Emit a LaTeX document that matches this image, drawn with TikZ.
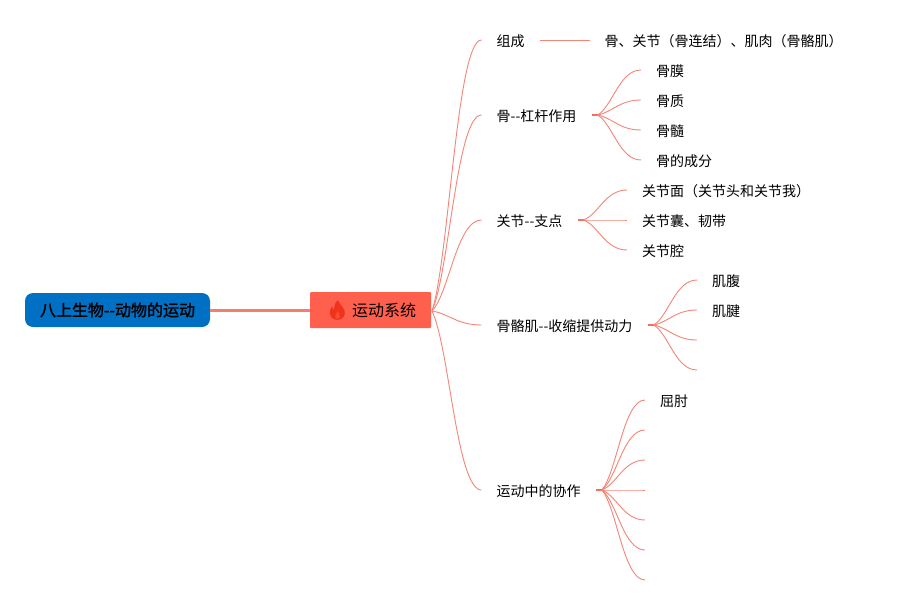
\documentclass[tikz,border=0pt]{standalone}
\usepackage{fontspec}
\setmainfont{Noto Sans CJK SC}
\newfontfamily\rootfont[FakeBold=1.5]{Noto Sans CJK SC}
\usetikzlibrary{calc}
\definecolor{rootblue}{HTML}{0070C4}
\definecolor{sysred}{HTML}{FF5F4D}
\definecolor{linered}{HTML}{F3705F}
\definecolor{flame}{HTML}{F0341C}
\tikzset{
  rootbox/.style={fill=rootblue,rounded corners=8pt,minimum width=185pt,minimum height=34pt,inner sep=0pt,font=\fontsize{16pt}{18pt}\selectfont\rootfont,text=black},
  sysbox/.style={fill=sysred,rounded corners=1pt,minimum width=121pt,minimum height=36pt,inner sep=0pt,font=\fontsize{16pt}{18pt}\selectfont,text=black},
  topic/.style={anchor=west,inner xsep=15pt,inner ysep=0pt,text height=14pt,text depth=1.4pt,font=\fontsize{14pt}{16pt}\selectfont,text=black},
  mainlink/.style={line width=3pt,draw=linered!90!white},
  branch/.style={line width=0.9pt,draw=linered!85!white},
  stub/.style={line width=1.8pt,draw=linered}
}
\newcommand{\fan}[2]{\draw[branch] let \p1=(#1), \p2=(#2) in (\p1) .. controls ({\x1+.35*(\x2-\x1)},{\y1+.2*(\y2-\y1)}) and ({\x2-.5*(\x2-\x1)},\y2) .. (\p2);}
\begin{document}
\begin{tikzpicture}[x=1pt,y=-1pt]
\useasboundingbox (0,0) rectangle (902,605);
\fill[white] (0,0) rectangle (902,605);
% main nodes
\node[rootbox] (root) at (117.5,310) {\raisebox{-1pt}{八上生物-{}-动物的运动}};
\node[sysbox] (sys) at (370.5,310) {\raisebox{-1pt}{\hspace*{27pt}运动系统}};
\draw[mainlink] (root.east) -- (sys.west);
\fill[flame] (338,300) .. controls (339,304) and (343,306) .. (344.5,310.5) .. controls (346,315) and (343,320) .. (337.5,320) .. controls (332,320) and (329,315.5) .. (330,311) .. controls (330.4,309) and (331,307.5) .. (332,306.5) .. controls (332.3,308) and (333,309) .. (334,309.5) .. controls (334,306) and (335,302.5) .. (338,300) -- cycle;
\fill[flame!45!sysred] (337.7,311) .. controls (337.5,313) and (335.2,314.5) .. (335.2,316.5) .. controls (335.2,318) and (336.2,318.8) .. (337.5,318.8) .. controls (338.8,318.8) and (340,318) .. (340,316.5) .. controls (340,314.5) and (338.2,313) .. (337.7,311) -- cycle;
\coordinate (hub) at (432,311);
% first level
\node[topic] (zucheng) at (481.5,40) {组成};
\node[topic] (gu) at (481.5,115) {骨-{}-杠杆作用};
\node[topic] (guanjie) at (481.5,220) {关节-{}-支点};
\node[topic] (jirou) at (481.5,325) {骨骼肌-{}-收缩提供动力};
\node[topic] (xiezuo) at (481.5,490) {运动中的协作};
\fan{hub}{zucheng.west}
\fan{hub}{gu.west}
\fan{hub}{guanjie.west}
\fan{hub}{jirou.west}
\fan{hub}{xiezuo.west}
% zucheng
\node[topic] (zcdetail) at (589.5,40) {骨、关节（骨连结）、肌肉（骨骼肌）};
\draw[branch] (zucheng.east) -- (zcdetail.west);
% gu
\node[topic] (gu1) at (641,70) {骨膜};
\node[topic] (gu2) at (641,100) {骨质};
\node[topic] (gu3) at (641,130) {骨髓};
\node[topic] (gu4) at (641,160) {骨的成分};
\coordinate (gus) at ($(gu.east)+(6,0)$);
\draw[stub] (gu.east) -- (gus);
\foreach \c in {gu1,gu2,gu3,gu4} {\fan{gus}{\c.west}}
% guanjie
\node[topic] (gj1) at (627,190) {关节面（关节头和关节我）};
\node[topic] (gj2) at (627,220) {关节囊、韧带};
\node[topic] (gj3) at (627,250) {关节腔};
\coordinate (gjs) at ($(guanjie.east)+(6,0)$);
\draw[stub] (guanjie.east) -- (gjs);
\foreach \c in {gj1,gj2,gj3} {\fan{gjs}{\c.west}}
% jirou
\node[topic] (jr1) at (697,280) {肌腹};
\node[topic] (jr2) at (697,310) {肌腱};
\coordinate (jr3) at (697,340);
\coordinate (jr4) at (697,370);
\coordinate (jrs) at ($(jirou.east)+(6,0)$);
\draw[stub] (jirou.east) -- (jrs);
\fan{jrs}{jr1.west}
\fan{jrs}{jr2.west}
\fan{jrs}{jr3}
\fan{jrs}{jr4}
% xiezuo
\node[topic] (xz1) at (645,400) {屈肘};
\coordinate (xz2) at (645,430);
\coordinate (xz3) at (645,460);
\coordinate (xz4) at (645,490);
\coordinate (xz5) at (645,520);
\coordinate (xz6) at (645,550);
\coordinate (xz7) at (645,580);
\coordinate (xzs) at ($(xiezuo.east)+(6,0)$);
\draw[stub] (xiezuo.east) -- (xzs);
\fan{xzs}{xz1.west}
\foreach \c in {xz2,xz3,xz4,xz5,xz6,xz7} {\fan{xzs}{\c}}
\end{tikzpicture}
\end{document}
